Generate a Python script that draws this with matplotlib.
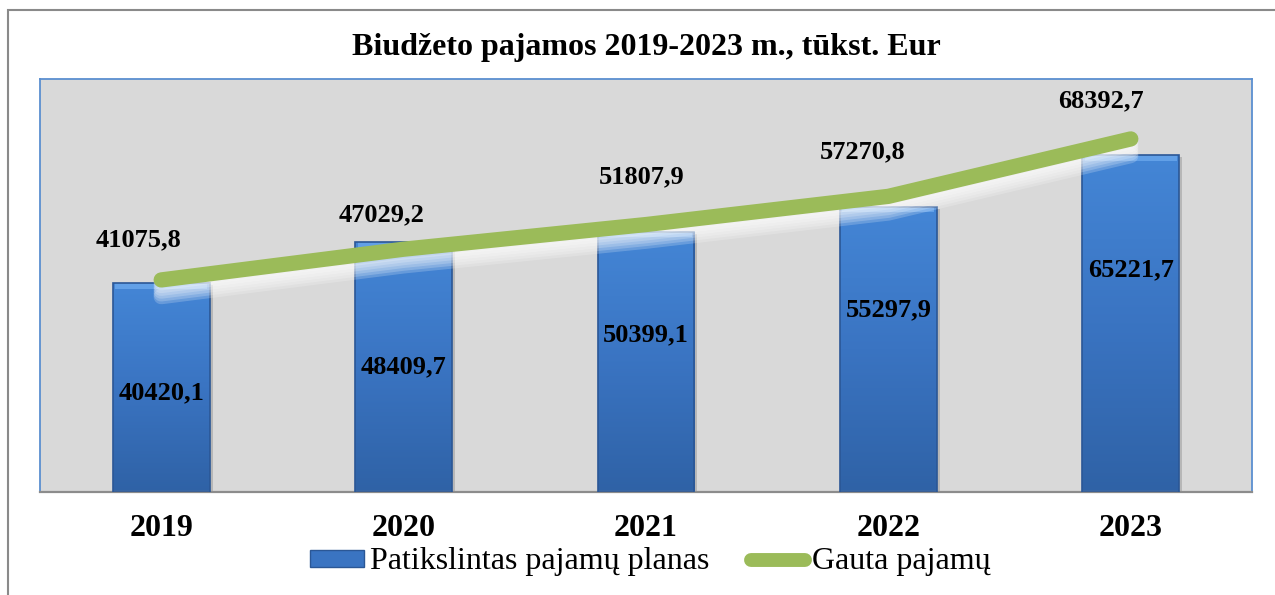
import numpy as np
import matplotlib.pyplot as plt
import matplotlib.patheffects as pe
from matplotlib.patches import Rectangle
from matplotlib.lines import Line2D
from matplotlib.colors import LinearSegmentedColormap

plt.rcParams['font.family'] = ['Liberation Serif', 'DejaVu Serif']

years = ['2019', '2020', '2021', '2022', '2023']
planas = [40420.1, 48409.7, 50399.1, 55297.9, 65221.7]
gauta = [41075.8, 47029.2, 51807.9, 57270.8, 68392.7]

# where the bar labels sit inside each bar (data units)
planas_label_y = [19200, 24300, 30500, 35300, 43100]
# offsets (pixels) of the line labels from their points
gauta_label_dx = [-23, -22, -4, -26, -30]
gauta_label_dy = [40, 34, 48, 45, 38]

fig = plt.figure(figsize=(12.75, 5.95), dpi=100)
W, H = 1275, 595

# outer frame of the chart
fig.add_artist(Rectangle((8 / W, -0.1), 1.2, 1 - 10 / H + 0.1, transform=fig.transFigure,
                         fill=False, edgecolor='#8a8a8a', linewidth=1.5))

ax = fig.add_axes([40 / W, (H - 492) / H, 1212 / W, 413 / H])
ax.set_facecolor('#d9d9d9')
ax.set_xlim(-0.5, 4.5)
ax.set_ylim(0, 80000)

x = np.arange(len(years))
bar_w = 0.4

# bars with a vertical blue gradient
cmap = LinearSegmentedColormap.from_list('blu', ['#2f62a6', '#3a74c2', '#4486d6'])
grad = np.linspace(0, 1, 256).reshape(-1, 1)
for xi, v in zip(x, planas):
    sh = Rectangle((xi - bar_w / 2 + 0.012, -400), bar_w, v, facecolor='#7a7a7a',
                   alpha=0.35, edgecolor='none', zorder=1)
    ax.add_patch(sh)
    rect = Rectangle((xi - bar_w / 2, 0), bar_w, v, facecolor='none',
                     edgecolor='#2b5796', linewidth=1.2, zorder=3)
    ax.add_patch(rect)
    im = ax.imshow(grad, extent=(xi - bar_w / 2, xi + bar_w / 2, 0, v), origin='lower',
                   cmap=cmap, aspect='auto', zorder=2)
    im.set_clip_path(rect)
    # light bevel along the top
    ax.add_patch(Rectangle((xi - bar_w / 2 + 0.01, v - 1100), bar_w - 0.02, 1100,
                           facecolor='#6aa8ec', edgecolor='none', alpha=0.8, zorder=2.5))
ax.set_aspect('auto')

# green line with a soft white glow underneath
glow = [pe.SimpleLineShadow(offset=(0, -d), shadow_color='white', alpha=0.2, rho=1.0)
        for d in (2, 4, 6, 8, 10, 12)]
ax.plot(x, gauta, color='#9bbb59', linewidth=11, solid_capstyle='round',
        solid_joinstyle='round', zorder=4, path_effects=glow + [pe.Normal()])

for xi, v, lv in zip(x, planas, planas_label_y):
    ax.text(xi, lv, f'{v:.1f}'.replace('.', ','), ha='center', va='center',
            fontsize=19, fontweight='bold', zorder=6)

for xi, v, dx, dy in zip(x, gauta, gauta_label_dx, gauta_label_dy):
    ax.annotate(f'{v:.1f}'.replace('.', ','), (xi, v), xytext=(dx, dy),
                textcoords='offset pixels', ha='center', va='center',
                fontsize=19, fontweight='bold', zorder=6)

ax.set_xticks(x)
ax.set_xticklabels(years, fontsize=23, fontweight='bold')
ax.tick_params(axis='x', length=0, pad=16)
ax.set_yticks([])
for side in ('left', 'top', 'right'):
    ax.spines[side].set_color('#5b8fd0')
    ax.spines[side].set_linewidth(1.3)
ax.spines['bottom'].set_color('#8c8c8c')
ax.spines['bottom'].set_linewidth(1.6)

fig.text(646 / W, 1 - 48 / H, 'Biudžeto pajamos 2019-2023 m., tūkst. Eur',
         ha='center', va='center', fontsize=23, fontweight='bold')

handles = [Rectangle((0, 0), 1, 1, facecolor='#3a74c2', edgecolor='#2b5796'),
           Line2D([], [], color='#9bbb59', linewidth=10, solid_capstyle='round')]
fig.legend(handles, ['Patikslintas pajamų planas', 'Gauta pajamų'],
           loc='center', bbox_to_anchor=(650 / W, 1 - 562 / H), ncol=2, frameon=False,
           fontsize=23, handlelength=1.7, handleheight=0.45, columnspacing=1.3,
           handletextpad=0.2)

fig.savefig('out.png', dpi=100)
